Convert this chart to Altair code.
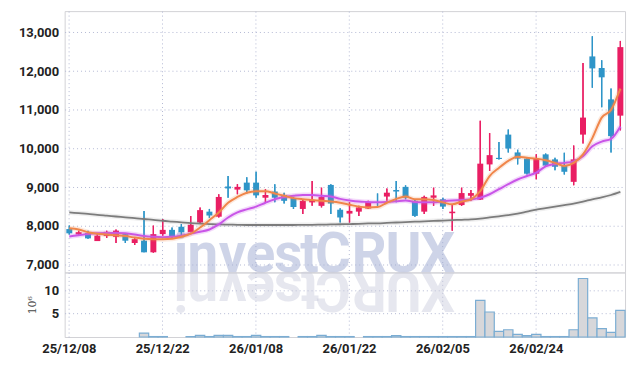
import altair as alt
import pandas as pd

dates = ["25/12/08","25/12/09","25/12/10","25/12/11","25/12/12","25/12/15","25/12/16","25/12/17","25/12/18","25/12/19",
         "25/12/22","25/12/23","25/12/24","25/12/26","25/12/29","25/12/30","26/01/02","26/01/05","26/01/06","26/01/07",
         "26/01/08","26/01/09","26/01/12","26/01/13","26/01/14","26/01/15","26/01/16","26/01/19","26/01/20","26/01/21",
         "26/01/22","26/01/23","26/01/26","26/01/27","26/01/28","26/01/29","26/01/30","26/02/02","26/02/03","26/02/04",
         "26/02/05","26/02/06","26/02/09","26/02/10","26/02/11","26/02/12","26/02/13","26/02/19","26/02/20","26/02/23",
         "26/02/24","26/02/25","26/02/26","26/02/27","26/03/03","26/03/04","26/03/05","26/03/06","26/03/09","26/03/10"]

opens = [7920,7780,7820,7610,7740,7720,7790,7560,7620,7320,
         7790,7900,7980,7840,8090,8370,8240,9020,8940,9120,
         9120,8730,8890,8800,8720,8440,8610,8520,9060,8420,
         8320,8370,8450,8620,8760,8930,9010,8650,8370,8730,
         8690,8330,8540,8780,8680,9590,9760,10360,9900,9740,
         9350,9850,9720,9550,9140,10360,12380,12080,11270,10850]
closes = [7810,7840,7680,7750,7850,7880,7620,7660,7320,7790,
          7900,7710,7840,8030,8410,8270,8750,8970,9010,8920,
          8790,8800,8730,8650,8490,8650,8670,8750,8580,8220,
          8390,8480,8620,8600,8860,8890,8730,8260,8750,8790,
          8500,8370,8850,8850,9610,9830,9730,10000,9740,9350,
          9740,9560,9530,9400,9720,10800,12070,11840,10320,12620]
highs = [8010,7880,7880,7790,7880,7910,7820,7680,8390,8010,
         8180,7960,8050,8260,8480,8440,8820,9290,9080,9260,
         9400,8950,9080,8860,8750,8670,9160,8990,9080,8460,
         8610,8520,8650,8840,8970,9160,9050,8690,8780,8990,
         8730,8560,8990,8930,10720,10400,10170,10490,9970,9750,
         9850,9870,9760,9890,10080,12210,12900,12280,11550,12780]
lows = [7780,7750,7670,7610,7690,7560,7560,7510,7320,7310,
        7750,7670,7750,7840,8080,8210,8220,8730,8820,8840,
        8730,8620,8610,8580,8440,8310,8520,8480,8310,8090,
        8090,8260,8440,8520,8650,8610,8690,8240,8310,8520,
        8440,7880,8520,8650,8670,9420,9720,9900,9590,9330,
        9210,9550,9440,9330,9050,10130,11570,11070,9900,10470]

ma5 = [7940,7910,7840,7800,7780,7760,7740,7700,7670,7660,
       7660,7670,7720,7800,7960,8150,8350,8600,8750,8860,
       8900,8900,8840,8780,8720,8690,8670,8650,8630,8600,
       8550,8500,8480,8490,8600,8700,8760,8690,8690,8670,
       8610,8560,8630,8690,8900,9290,9500,9680,9790,9760,
       9740,9700,9630,9550,9630,9850,10270,10800,11000,11550]
ma20 = [7730,7760,7790,7810,7820,7820,7810,7780,7740,7720,
        7710,7720,7750,7800,7850,7910,8040,8220,8350,8430,
        8500,8600,8690,8750,8780,8800,8800,8780,8760,8700,
        8660,8630,8620,8610,8620,8640,8660,8620,8610,8610,
        8640,8660,8670,8690,8730,8820,8950,9080,9200,9290,
        9380,9540,9600,9630,9670,9800,10060,10180,10250,10570]
ma60 = [8350,8330,8310,8285,8265,8245,8225,8205,8180,8160,
        8135,8115,8095,8075,8060,8050,8040,8035,8030,8025,
        8025,8025,8025,8025,8025,8030,8030,8035,8040,8045,
        8050,8055,8065,8070,8080,8090,8100,8110,8120,8130,
        8140,8150,8160,8170,8190,8220,8250,8280,8320,8370,
        8420,8460,8500,8540,8580,8630,8690,8740,8800,8880]

# volume in millions of shares (None = no bar drawn)
volume = [None,None,None,None,None,None,None,None,0.85,0.1,
          0.1,None,None,0.1,0.35,0.1,0.35,0.35,0.1,0.1,
          0.35,0.1,0.1,0.1,None,0.1,0.1,0.35,0.1,0.1,
          0.1,None,0.1,0.1,0.1,0.3,0.1,0.1,0.1,0.1,
          0.1,0.1,0.1,0.1,7.85,5.35,1.2,1.55,0.55,0.3,
          0.55,0.1,0.1,0.1,1.55,12.5,4.1,1.8,1.0,5.7]

axis_dates = ["25/12/08","25/12/22","26/01/08","26/01/22","26/02/05","26/02/24"]
price_ticks = [7000,8000,9000,10000,11000,12000,13000]
vol_ticks = [5,10]
wm_letters = list("investCRUX")
wm_pos = [117,139,169,197,225,246.5,270,306.5,341,375.7]

UP = "#e91e63"
DOWN = "#2e95c8"
W = 564
H_PRICE = 263
H_VOL = 65
LABEL_FONT = "Roboto"
GRID = "#b3b8d4"

df = pd.DataFrame({"date": dates, "open": opens, "close": closes, "high": highs, "low": lows,
                   "MA5": ma5, "MA20": ma20, "MA60": ma60, "vol": volume})
df["dir"] = ["up" if c >= o else "down" for o, c in zip(opens, closes)]

xscale = alt.Scale(domain=dates, paddingInner=0, paddingOuter=0)
color = alt.Color("dir:N", scale=alt.Scale(domain=["up", "down"], range=[UP, DOWN]), legend=None)

x_axis_price = alt.Axis(values=axis_dates, labels=False, ticks=False, domain=False,
                        grid=True, bandPosition=0.5)
x_price = alt.X("date:O", scale=xscale, sort=None, title=None, axis=x_axis_price)
yscale = alt.Scale(domain=[6800, 13550], nice=False, zero=False)
y_axis = alt.Axis(values=price_ticks, labelExpr="format(datum.value, ',d')",
                  grid=True, title=None)


def letters(y, color, opacity, angle):
    layers = []
    for ch, px in zip(wm_letters, wm_pos):
        t = alt.Chart(pd.DataFrame({"ch": [ch]})).mark_text(
            font="Roboto", fontSize=55, fontWeight="bold", color=color, opacity=opacity,
            baseline="alphabetic", align="center", angle=angle
        ).encode(x=alt.value(px), y=alt.value(y), text="ch:N")
        layers.append(t)
    return layers


base = alt.Chart(df)

wicks = base.mark_rule(strokeWidth=1.3).encode(
    x=x_price,
    y=alt.Y("low:Q", scale=yscale, axis=y_axis),
    y2="high:Q",
    color=color)
bodies = base.mark_bar(size=6).encode(
    x=x_price,
    y=alt.Y("open:Q", scale=yscale),
    y2="close:Q",
    color=color)


def ma_layers(field, col, width, halo_op):
    halo = base.mark_line(strokeWidth=width + 3, opacity=halo_op, color=col, interpolate="monotone").encode(
        x=x_price, y=alt.Y(f"{field}:Q", scale=yscale))
    line = base.mark_line(strokeWidth=width, color=col, interpolate="monotone").encode(
        x=x_price, y=alt.Y(f"{field}:Q", scale=yscale))
    return [halo, line]


price_layers = ([wicks] + letters(H_PRICE, "#9fabd2", 0.5, 0) + [wicks, bodies]
                + ma_layers("MA60", "#7c7c7c", 1.8, 0.12) + ma_layers("MA20", "#c955e8", 2, 0.22)
                + ma_layers("MA5", "#f0864a", 2, 0.18))
price = alt.layer(*price_layers).properties(width=W, height=H_PRICE)

vol_y_axis = alt.Axis(values=vol_ticks, grid=True, labelExpr="format(datum.value, 'd')",
                      title="10⁶", titleFont="DejaVu Serif", titleFontSize=11,
                      titleFontWeight="normal", titleColor="#444",
                      titleX=-32, titleY=H_VOL / 2, titleAngle=270,
                      titleAlign="center", titleBaseline="middle")
x_vol = alt.X("date:O", scale=xscale, sort=None, title=None,
              axis=alt.Axis(values=axis_dates, ticks=False, domain=False, grid=True, bandPosition=0.5,
                            labelAngle=0, labelFont=LABEL_FONT, labelFontSize=13,
                            labelFontWeight="bold", labelColor="#222", labelPadding=6))

vol_bars = base.mark_bar(fill="#d7d7da", stroke="#7badd3", strokeWidth=1.2).encode(
    x=x_vol,
    y=alt.Y("vol:Q", scale=alt.Scale(domain=[0, 13.8], nice=False), axis=vol_y_axis))

vol = alt.layer(*(letters(0, "#c9cbdc", 0.45, 180) + [vol_bars])).properties(width=W, height=H_VOL)

chart = alt.vconcat(price, vol, spacing=0, bounds="flush").properties(
    padding={"left": 10, "top": 1, "right": 0, "bottom": 4}
).configure(numberFormat=",").configure_view(
    stroke="#d2d2d6", strokeWidth=1
).configure_axis(
    gridColor=GRID, gridDash=[1, 3], gridWidth=1, gridOpacity=1
).configure_axisY(
    labelFont=LABEL_FONT, labelFontSize=13, labelFontWeight="bold", labelColor="#222",
    labelPadding=6, ticks=False, domain=False
)

chart.save("out.html", embed_options={"renderer": "svg", "actions": False})
